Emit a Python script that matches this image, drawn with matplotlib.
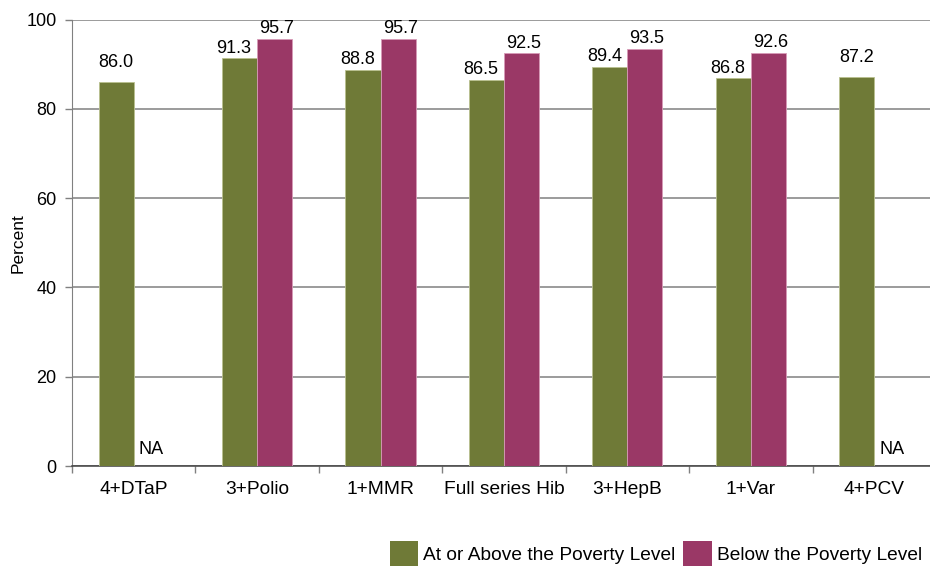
import numpy as np
import matplotlib.pyplot as plt
from matplotlib.patches import Patch

plt.rcParams['font.family'] = ['Liberation Sans', 'DejaVu Sans']

# Data
vaccines = ['4+DTaP', '3+Polio', '1+MMR', 'Full series Hib', '3+HepB', '1+Var', '4+PCV']
above = [86.0, 91.3, 88.8, 86.5, 89.4, 86.8, 87.2]
below = [None, 95.7, 95.7, 92.5, 93.5, 92.6, None]
series_names = ['At or Above the Poverty Level', 'Below the Poverty Level']

green = '#6f7a37'
pink = '#9a3866'
fs = 13       # numbers
fs_txt = 13.8  # words

fig = plt.figure(figsize=(9.3, 5.69), dpi=100)
ax = fig.add_axes([0.0774, 0.181, 0.929, 0.7847])

x = np.arange(len(vaccines))
w = 0.284

for i in range(len(vaccines)):
    ax.bar(x[i] - w / 2, above[i], w, color=green, edgecolor='#b9c08f', linewidth=0.6, zorder=3)
    if below[i] is None:
        # single bar: label sits higher above it
        ax.annotate(f'{above[i]:.1f}', (x[i] - w / 2, above[i]), xytext=(0, 8),
                    textcoords='offset points', ha='center', va='bottom', fontsize=fs)
        ax.text(x[i] + w / 2, 3.6, 'NA', ha='center', va='center', fontsize=fs)
    else:
        ax.annotate(f'{above[i]:.1f}', (x[i] - w / 2, above[i]), xytext=(-4, 1),
                    textcoords='offset points', ha='center', va='bottom', fontsize=fs)
        ax.bar(x[i] + w / 2, below[i], w, color=pink, edgecolor='#d79ab7', linewidth=0.6, zorder=3)
        ax.annotate(f'{below[i]:.1f}', (x[i] + w / 2, below[i]), xytext=(1.5, 1),
                    textcoords='offset points', ha='center', va='bottom', fontsize=fs)

ax.set_xlim(-0.5, len(vaccines) - 0.5)
ax.set_ylim(0, 100)
ax.set_yticks(range(0, 101, 20))
ax.yaxis.grid(True, color='#808080', linewidth=1.1, zorder=0)

ax.set_xticks(x)
ax.set_xticklabels(vaccines, fontsize=fs_txt)
ax.set_xticks(np.arange(-0.5, len(vaccines), 1), minor=True)
ax.tick_params(axis='x', which='major', length=0, pad=11)
ax.tick_params(axis='x', which='minor', length=5, color='#808080', width=1)
ax.tick_params(axis='y', length=5, color='#808080', width=1, labelsize=fs, pad=6)

for s in ['top', 'right']:
    ax.spines[s].set_visible(False)
ax.spines['left'].set_color('#808080')
ax.spines['bottom'].set_color('#404040')
ax.spines['bottom'].set_linewidth(1.1)

ax.set_ylabel('Percent', fontsize=12.5)
ax.yaxis.set_label_coords(-0.054, 0.5)

handles = [Patch(facecolor=green, edgecolor='none'), Patch(facecolor=pink, edgecolor='none')]
fig.legend(handles, series_names, loc='lower left', bbox_to_anchor=(0.419, 0.006), ncol=2,
           frameon=False, fontsize=fs_txt, handlelength=1.5, handleheight=1.6,
           handletextpad=0.25, columnspacing=0.4, borderpad=0, borderaxespad=0)

fig.savefig('out.png', dpi=100)
